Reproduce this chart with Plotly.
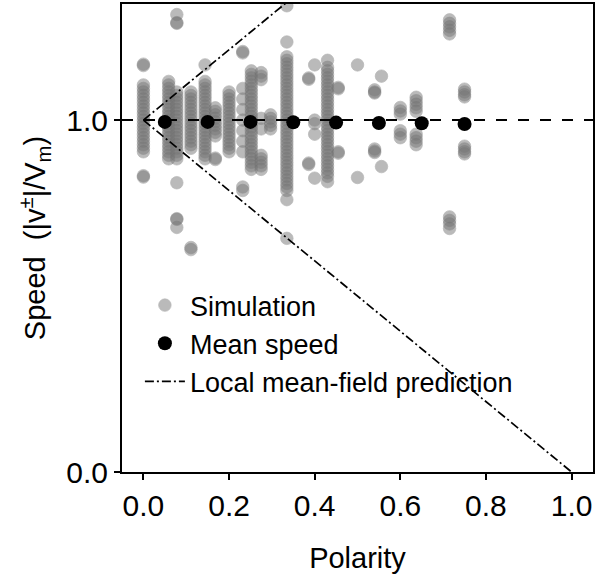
import plotly.graph_objects as go

# ---- data ----
sim_polarity = [0.000, 0.059, 0.078, 0.111, 0.144, 0.168, 0.200, 0.232, 0.252, 0.275,
                0.297, 0.335, 0.386, 0.400, 0.430, 0.455, 0.500, 0.540, 0.556, 0.600,
                0.637, 0.715, 0.750]
sim_speeds = [
    [1.155, 1.159, 1.10, 1.09, 1.08, 1.07, 1.06, 1.05, 1.04, 1.03, 1.02, 1.01, 1.00, 0.99, 0.98,
     0.97, 0.96, 0.95, 0.94, 0.93, 0.92, 0.91, 0.842, 0.838],
    [1.11, 1.10, 1.09, 1.08, 1.07, 1.06, 1.05, 1.04, 1.03, 1.02, 1.01, 1.00, 0.99, 0.98, 0.97,
     0.96, 0.95, 0.94, 0.93, 0.92, 0.91, 0.90, 0.89],
    [1.30, 1.277, 1.275, 1.08, 1.07, 1.06, 1.05, 1.04, 1.03, 1.02, 1.01, 1.00, 0.99, 0.98, 0.97,
     0.96, 0.95, 0.94, 0.93, 0.92, 0.91, 0.90, 0.89, 0.822, 0.72, 0.718, 0.695],
    [1.08, 1.07, 1.06, 1.05, 1.04, 1.03, 1.02, 1.01, 1.00, 0.99, 0.98, 0.97, 0.96, 0.95, 0.94,
     0.93, 0.92, 0.638, 0.632],
    [1.157, 1.11, 1.10, 1.09, 1.08, 1.07, 1.06, 1.05, 1.04, 1.03, 1.02, 1.01, 1.00, 0.99, 0.98,
     0.97, 0.96, 0.95, 0.94, 0.93, 0.92, 0.91, 0.90, 0.89],
    [1.035, 1.025, 1.015, 1.005, 0.995, 0.985, 0.975, 0.965, 0.955, 0.892, 0.888],
    [1.08, 1.07, 1.06, 1.05, 1.04, 1.03, 1.02, 1.01, 1.00, 0.99, 0.98, 0.97, 0.96, 0.95, 0.94,
     0.93, 0.92, 0.91],
    [1.195, 1.191, 1.09, 1.06, 1.03, 1.00, 0.97, 0.94, 0.91, 0.81, 0.80],
    [1.14, 1.13, 1.12, 1.11, 1.10, 1.09, 1.08, 1.07, 1.06, 1.05, 1.04, 1.03, 1.02, 1.01, 1.00,
     0.99, 0.98, 0.97, 0.96, 0.95, 0.94, 0.93, 0.92, 0.91, 0.90, 0.89, 0.88, 0.87, 0.86],
    [1.135, 1.125, 1.115, 1.005, 0.975, 0.90, 0.89, 0.88, 0.87, 0.86],
    [1.015, 1.005, 0.995, 0.985, 0.975],
    [1.325, 1.222, 1.18, 1.17, 1.16, 1.15, 1.14, 1.13, 1.12, 1.11, 1.10, 1.09, 1.08, 1.07, 1.06,
     1.05, 1.04, 1.03, 1.02, 1.01, 1.00, 0.99, 0.98, 0.97, 0.96, 0.95, 0.94, 0.93, 0.92, 0.91,
     0.90, 0.89, 0.88, 0.87, 0.86, 0.85, 0.84, 0.83, 0.82, 0.81, 0.80, 0.774, 0.664],
    [1.120, 1.116, 0.878, 0.874],
    [1.157, 1.00, 0.99, 0.96, 0.835],
    [1.17, 1.15, 1.14, 1.13, 1.12, 1.11, 1.10, 1.09, 1.08, 1.07, 1.06, 1.05, 1.04, 1.03, 1.02,
     1.01, 1.00, 0.99, 0.98, 0.97, 0.96, 0.95, 0.94, 0.93, 0.92, 0.91, 0.90, 0.89, 0.88, 0.87,
     0.86, 0.85, 0.84, 0.825],
    [1.093, 1.089, 0.910, 0.906],
    [1.157, 0.837],
    [1.086, 1.080, 1.077, 0.918, 0.912, 0.908],
    [1.125, 0.868],
    [1.036, 1.026, 1.017, 0.970, 0.960, 0.950],
    [1.065, 1.055, 1.045, 1.035, 1.025, 0.96, 0.95, 0.94, 0.93],
    [1.285, 1.275, 1.265, 1.255, 1.245, 0.725, 0.715, 0.705, 0.692],
    [1.088, 1.080, 1.072, 1.066, 0.926, 0.918, 0.910, 0.904],
]

mean_polarity = [0.05, 0.15, 0.25, 0.35, 0.45, 0.55, 0.65, 0.75]
mean_speed = [0.995, 0.995, 0.995, 0.994, 0.993, 0.992, 0.991, 0.989]

pred_polarity = [0.0, 1.0]
pred_upper = [1.0, 2.0]
pred_lower = [1.0, 0.0]

ref_polarity = [-0.05, 1.05]
ref_speed = [1.0, 1.0]

x_ticks = [0.0, 0.2, 0.4, 0.6, 0.8, 1.0]
y_ticks = [0.0, 1.0]

# ---- build figure ----
sx, sy = [], []
for p, vs in zip(sim_polarity, sim_speeds):
    for v in vs:
        sx.append(p)
        sy.append(v)

FONT = "Liberation Sans, Arial, sans-serif"

fig = go.Figure()
fig.add_trace(go.Scatter(
    x=sx, y=sy, mode="markers", name="Simulation",
    marker=dict(size=12.5, color="#777777", opacity=0.5,
                line=dict(width=0.7, color="#6f6f6f")),
    legendgroup="a",
))
fig.add_trace(go.Scatter(
    x=ref_polarity, y=ref_speed, mode="lines", showlegend=False,
    line=dict(color="black", width=2, dash="11px,11px"),
))
fig.add_trace(go.Scatter(
    x=mean_polarity, y=mean_speed, mode="markers", name="Mean speed",
    marker=dict(size=14, color="black"), legendgroup="b",
))
fig.add_trace(go.Scatter(
    x=pred_polarity + [None] + pred_polarity,
    y=pred_upper + [None] + pred_lower,
    mode="lines", name="Local mean-field prediction",
    line=dict(color="black", width=1.7, dash="9px,3px,2px,3px"),
    legendgroup="c",
))

axis_common = dict(
    showline=True, linecolor="black", linewidth=2, mirror=True,
    ticks="outside", ticklen=6, tickwidth=1.5, tickcolor="black",
    showgrid=False, zeroline=False,
    tickfont=dict(family=FONT, size=30, color="black"),
)

fig.update_layout(
    width=597, height=579,
    margin=dict(l=122, r=3, t=2, b=107),
    paper_bgcolor="white", plot_bgcolor="white",
    font=dict(family=FONT, color="black"),
    xaxis=dict(range=[-0.05, 1.05], tickvals=x_ticks, tickformat=".1f",
               title=dict(text="Polarity", font=dict(family=FONT, size=29), standoff=27),
               **axis_common),
    yaxis=dict(range=[0, 1.33], tickvals=y_ticks, tickformat=".1f",
               title=dict(text="Speed\u00a0\u00a0(|v<sup>±</sup>|/V<sub>m</sub>)",
                          font=dict(family=FONT, size=29), standoff=12),
               **axis_common),
    legend=dict(x=0.038, y=0.408, xanchor="left", yanchor="top",
                bgcolor="rgba(0,0,0,0)", borderwidth=0,
                font=dict(family=FONT, size=27, color="black"),
                itemwidth=40, traceorder="grouped", tracegroupgap=0),
    showlegend=True,
)

fig.write_html("out.html")
